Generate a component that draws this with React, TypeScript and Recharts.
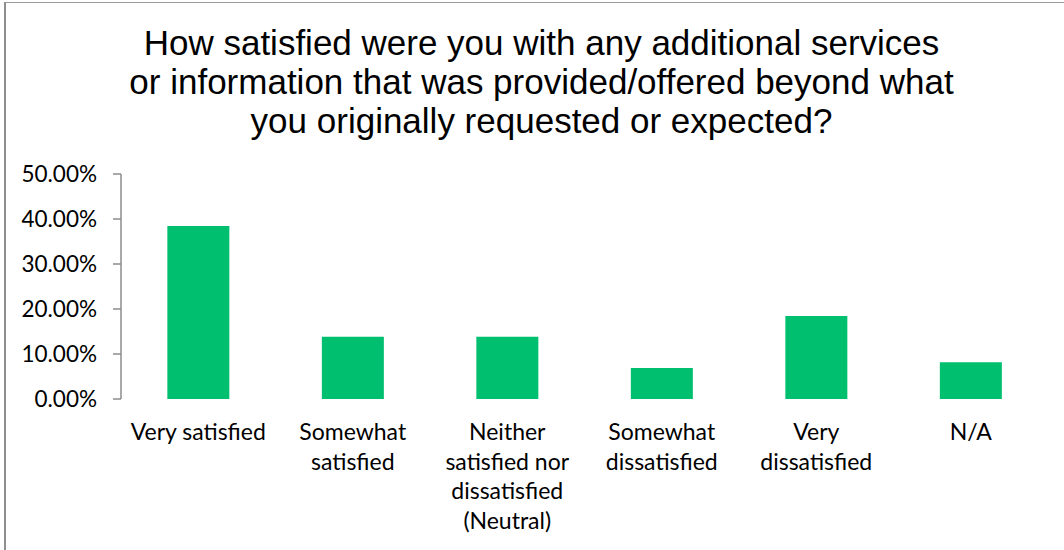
import { Bar, BarChart, XAxis, YAxis } from 'recharts'

// Survey question: share of respondents per answer
const TITLE_LINES = [
  'How satisfied were you with any additional services',
  'or information that was provided/offered beyond what',
  'you originally requested or expected?',
]
const categories = [
  'Very satisfied',
  'Somewhat satisfied',
  'Neither satisfied nor dissatisfied (Neutral)',
  'Somewhat dissatisfied',
  'Very dissatisfied',
  'N/A',
]
const shares = [0.3846, 0.1385, 0.1385, 0.069, 0.1846, 0.0815]
const yTicks = [0, 0.1, 0.2, 0.3, 0.4, 0.5]
// how the category labels break, as in the original
const labelLines: Record<string, string[]> = {
  'Very satisfied': ['Very satisfied'],
  'Somewhat satisfied': ['Somewhat', 'satisfied'],
  'Neither satisfied nor dissatisfied (Neutral)': ['Neither', 'satisfied nor', 'dissatisfied', '(Neutral)'],
  'Somewhat dissatisfied': ['Somewhat', 'dissatisfied'],
  'Very dissatisfied': ['Very', 'dissatisfied'],
  'N/A': ['N/A'],
}
const edgeTicks = [0, 1, 2, 3, 4, 5, 6]

const data = categories.map((name, i) => ({ name, share: shares[i] }))

const AXIS = '#8c8c8c'
const TICK_FONT = 'Lato, "Open Sans", sans-serif'

function CategoryTick({ x, y, payload }: { x?: number; y?: number; payload?: { value: string } }) {
  const label = payload?.value ?? ''
  const lines = labelLines[label] ?? [label]
  return (
    <text x={x} y={(y ?? 0) + 33} textAnchor="middle" fill="#000" fontSize={23} fontFamily={TICK_FONT}>
      {lines.map((line, i) => (
        <tspan key={line} x={x} dy={i === 0 ? 0 : 29.7}>
          {line}
        </tspan>
      ))}
    </text>
  )
}

export default function App() {
  return (
    <div
      style={{
        position: 'absolute',
        left: 0,
        top: 0,
        width: 1064,
        height: 550,
        overflow: 'hidden',
        background: '#fff',
      }}
    >
      <div
        style={{
          position: 'absolute',
          left: 4,
          top: 2,
          width: 1200,
          height: 700,
          borderLeft: '2px solid #8f8f8f',
          borderTop: '1px solid #9a9a9a',
        }}
      />
      <div
        style={{
          position: 'absolute',
          left: 0,
          top: 23,
          width: 1083,
          textAlign: 'center',
          fontFamily: '"Liberation Sans", Arial, sans-serif',
          fontSize: 35,
          lineHeight: '39px',
          color: '#000',
        }}
      >
        {TITLE_LINES.map((line) => (
          <div key={line} style={{ whiteSpace: 'nowrap' }}>
            {line}
          </div>
        ))}
      </div>
      <div style={{ position: 'absolute', left: 0, top: 0 }}>
        <BarChart
          width={1064}
          height={550}
          data={data}
          margin={{ top: 174, right: 16, bottom: 0, left: 0 }}
          barCategoryGap="30%"
        >
          <XAxis
            dataKey="name"
            xAxisId="cat"
            tick={<CategoryTick />}
            tickLine={false}
            axisLine={false}
            interval={0}
            height={151}
          />
          <XAxis
            xAxisId="edges"
            type="number"
            domain={[0, 6]}
            ticks={edgeTicks}
            tick={false}
            tickSize={8}
            tickLine={{ stroke: AXIS, strokeWidth: 1.5 }}
            axisLine={{ stroke: AXIS, strokeWidth: 1.5 }}
            height={0}
          />
          <YAxis
            domain={[0, 0.5]}
            ticks={yTicks}
            width={121}
            tickSize={8}
            tickMargin={16}
            tickLine={{ stroke: AXIS, strokeWidth: 1.5 }}
            axisLine={{ stroke: AXIS, strokeWidth: 1.5 }}
            tick={{ fill: '#000', fontSize: 22.5, fontFamily: TICK_FONT }}
            tickFormatter={(v: number) => `${(v * 100).toFixed(2)}%`}
          />
          <Bar dataKey="share" xAxisId="cat" fill="#00BF6F" isAnimationActive={false} />
        </BarChart>
      </div>
    </div>
  )
}
